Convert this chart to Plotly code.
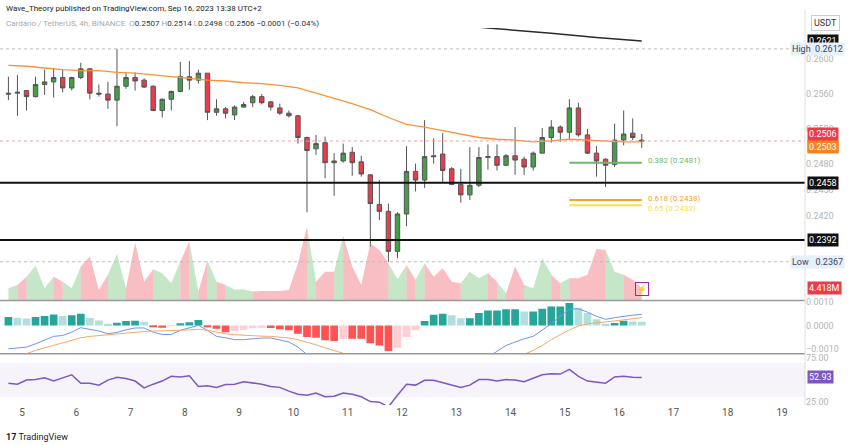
import pandas as pd
import plotly.graph_objects as go

start = "2023-09-04 18:00"
n = 71
times = pd.date_range(start, periods=n, freq="4h")

opens = [.2561,.2561,.2564,.2557,.2571,.2574,.2579,.2567,.2579,.2589,.2561,.2560,.2553,.2569,.2579,.2576,.2569,.2541,.2554,.2563,
         .2580,.2576,.2584,.2539,.2543,.2536,.2545,.2550,.2557,.2551,.2544,.2538,.2535,.2510,.2497,.2504,.2483,.2483,.2493,.2482,
         .2467,.2433,.2425,.2379,.2422,.2471,.2461,.2489,.2491,.2474,.2456,.2444,.2455,.2487,.2488,.2478,.2489,.2485,.2476,.2492,
         .2510,.2522,.2516,.2544,.2513,.2492,.2485,.2479,.2507,.2515,.2507]
highs = [.2580,.2582,.2564,.2580,.2588,.2590,.2588,.2580,.2596,.2590,.2571,.2574,.2612,.2584,.2585,.2578,.2570,.2555,.2564,.2597,
         .2598,.2588,.2584,.2554,.2545,.2547,.2551,.2559,.2560,.2552,.2549,.2541,.2536,.2511,.2513,.2511,.2492,.2503,.2499,.2489,
         .2468,.2461,.2434,.2424,.2500,.2480,.2530,.2509,.2515,.2476,.2474,.2499,.2499,.2502,.2502,.2491,.2522,.2488,.2494,.2521,
         .2530,.2524,.2554,.2550,.2520,.2500,.2486,.2526,.2541,.2532,.2514]
lows = [.2553,.2535,.2541,.2556,.2559,.2556,.2562,.2564,.2577,.2554,.2557,.2543,.2523,.2566,.2564,.2567,.2541,.2533,.2541,.2562,
        .2565,.2572,.2530,.2535,.2532,.2530,.2544,.2545,.2548,.2541,.2536,.2533,.2503,.2424,.2490,.2463,.2443,.2481,.2466,.2465,
        .2384,.2415,.2367,.2371,.2408,.2448,.2452,.2480,.2459,.2455,.2435,.2438,.2453,.2473,.2472,.2477,.2467,.2467,.2472,.2492,
        .2504,.2505,.2508,.2511,.2491,.2465,.2453,.2476,.2501,.2507,.2498]
closes = [.2560,.2562,.2557,.2571,.2574,.2579,.2567,.2579,.2589,.2561,.2560,.2553,.2569,.2579,.2575,.2568,.2541,.2554,.2563,.2580,
          .2576,.2584,.2539,.2543,.2538,.2545,.2548,.2557,.2550,.2545,.2538,.2535,.2510,.2495,.2503,.2481,.2481,.2492,.2481,.2468,
          .2434,.2425,.2379,.2422,.2471,.2461,.2488,.2488,.2472,.2456,.2444,.2455,.2487,.2488,.2478,.2489,.2484,.2476,.2492,.2510,
          .2522,.2516,.2544,.2513,.2492,.2483,.2478,.2507,.2514,.2510,.2506]
volume_m = [4.4,5.7,8.8,12.9,4.4,8.8,6.9,4.4,12.6,16.4,3.8,9.5,17.4,4.4,21.7,6.9,11.6,10.1,6.3,14.5,
            22.1,3.2,14.9,6.9,5.7,4.0,4.0,3.2,3.4,3.4,3.4,3.8,13.9,27.5,6.9,10.7,10.7,24.2,12.6,5.7,
            21.4,18.9,13.9,7.8,13.2,7.6,13.9,8.8,12.0,6.9,6.3,10.7,8.2,10.1,6.9,2.5,12.6,5.7,4.4,15.8,
            9.5,6.3,8.2,8.2,9.5,19.2,18.9,10.7,9.5,7.6,4.418]
ema_idx = list(range(0, 71, 2))
ema_vals = [.2593,.2592,.2590,.2588,.2587,.2587,.2585,.2584,.2582,.2580,.2578,.2576,.2575,.2573,.2572,.2570,.2567,.2561,
            .2555,.2549,.2542,.2533,.2525,.2522,.2518,.2514,.2510,.2508,.2507,.2505,.2506,.2508,.2507,.2506,.2505,.2505]
ma200_idx = [44, 53, 60, 65, 70]
ma200_vals = [.2645, .2636, .2630, .2625, .2621]
macd_hist_e4 = [3.6,3.3,2.9,3.6,4.0,4.7,4.0,4.3,5.0,3.3,2.1,0.7,1.1,1.9,2.0,1.6,-0.7,-1.0,-0.3,0.9,
                1.4,2.3,-0.4,-1.4,-2.9,-2.4,-1.9,-1.1,-1.0,-1.1,-1.6,-2.1,-3.6,-5.0,-5.3,-6.4,-6.7,-5.7,-5.7,-5.7,
                -7.6,-8.6,-11.0,-9.6,-5.0,-2.1,1.9,4.6,5.0,4.3,3.1,3.1,5.3,6.4,6.4,6.9,6.9,6.0,6.0,7.1,
                8.1,8.1,9.6,7.6,5.3,2.6,0.7,1.0,2.0,1.7,1.6]
macd_line_e4 = [-10.0,-9.7,-9.3,-7.9,-6.4,-4.7,-4.3,-2.9,-1.0,-1.6,-2.4,-3.6,-3.0,-1.9,-1.1,-1.1,-2.9,-3.9,-3.9,-2.1,
                -1.1,0.0,-2.1,-4.7,-5.3,-6.1,-6.1,-5.7,-5.4,-5.4,-6.1,-7.1,-9.3,-12.9,-15.7,-17.9,-20.0,-20.7,-22.1,-23.6,
                -26.4,-29.3,-32.1,-31.4,-27.9,-25.0,-22.1,-20.0,-17.9,-17.1,-16.4,-15.7,-15.0,-13.6,-11.0,-8.6,-7.1,-5.7,-4.7,-2.1,
                0.7,3.9,6.9,7.1,5.7,3.9,2.6,3.3,4.0,4.4,4.7]
signal_e4 = [-14.3,-13.3,-12.1,-10.7,-9.6,-8.6,-7.6,-6.4,-5.3,-4.7,-4.3,-3.9,-3.6,-3.3,-3.0,-2.6,-2.4,-2.4,-2.3,-2.1,
             -1.9,-1.7,-2.1,-2.9,-3.6,-4.0,-4.3,-4.4,-4.6,-4.7,-5.0,-5.4,-6.1,-7.1,-8.3,-9.6,-10.7,-11.9,-13.6,-15.0,
             -16.4,-17.9,-19.3,-20.4,-21.0,-21.0,-20.7,-20.4,-20.0,-19.0,-17.9,-17.1,-16.4,-15.7,-15.0,-14.0,-13.3,-12.4,-10.7,-8.6,
             -6.1,-3.9,-1.9,-0.3,0.7,1.1,1.4,1.9,2.4,2.9,3.3]
rsi = [46.2,45.1,49.8,50.5,52.4,48.7,52.4,56.0,46.2,46.2,44.0,49.8,53.1,51.6,48.7,40.7,45.1,48.7,54.2,53.5,
       54.9,42.5,43.2,41.4,44.7,45.1,48.0,46.9,45.1,42.5,41.4,37.0,33.4,32.3,34.9,30.5,31.2,34.9,33.4,30.5,
       25.0,24.3,18.8,32.3,45.1,44.0,49.5,49.5,46.9,44.3,41.4,44.0,50.5,50.5,48.7,50.5,49.8,48.0,52.4,56.0,
       57.1,56.8,62.2,54.2,48.7,47.6,46.2,53.5,54.2,53.1,52.93]
support_levels = [0.2458, 0.2392]
high_val, low_val, last_val, ema_last = 0.2612, 0.2367, 0.2506, 0.2503
fib_labels = ["0.382 (0.2481)", "0.618 (0.2438)", "0.65 (0.2432)"]
fib_vals = [0.2481, 0.2438, 0.2432]
fib_colors = ["#6cb86c", "#f7a030", "#f5e050"]
fib_start, fib_end = 62, 70
day_ticks = pd.date_range("2023-09-05", "2023-09-19", freq="D")
day_labels = [str(d.day) for d in day_ticks]

GREEN, RED = "#43a047", "#ef3a4a"
fig = go.Figure()
up = [c >= o for o, c in zip(opens, closes)]

for flag, col in [(True, "rgba(129,199,132,0.45)"), (False, "rgba(242,125,135,0.5)")]:
    xs, ys = [], []
    for i in range(1, n):
        if up[i] == flag:
            xs += [times[i-1], times[i-1], times[i], times[i], None]
            ys += [0, volume_m[i-1], volume_m[i], 0, None]
    fig.add_trace(go.Scatter(x=xs, y=ys, fill="toself", fillcolor=col, mode="none",
                             xaxis="x", yaxis="y4", hoverinfo="skip", showlegend=False))

fig.add_trace(go.Scatter(x=[times[i] for i in ema_idx], y=ema_vals, mode="lines",
                         line=dict(color="#f7943a", width=1.3), xaxis="x", yaxis="y", showlegend=False))
fig.add_trace(go.Scatter(x=[times[i] for i in ma200_idx], y=ma200_vals, mode="lines",
                         line=dict(color="#2a2a2a", width=1.5), xaxis="x", yaxis="y", showlegend=False))
fig.add_trace(go.Candlestick(x=times, open=opens, high=highs, low=lows, close=closes,
                             increasing=dict(fillcolor=GREEN, line=dict(color="#555", width=1)),
                             decreasing=dict(fillcolor=RED, line=dict(color="#555", width=1)),
                             whiskerwidth=0, xaxis="x", yaxis="y", showlegend=False))
for v, c in zip(fib_vals, fib_colors):
    fig.add_trace(go.Scatter(x=[times[fib_start], times[fib_end]], y=[v, v], mode="lines",
                             line=dict(color=c, width=2), xaxis="x", yaxis="y", showlegend=False))

hcols = []
for i, h in enumerate(macd_hist_e4):
    prev = macd_hist_e4[i-1] if i > 0 else h
    if h >= 0:
        hcols.append("#26a69a" if h >= prev else "#b2dfdb")
    else:
        hcols.append("#ff5252" if h <= prev else "#ffcdd2")
fig.add_trace(go.Bar(x=times, y=[h / 1e4 for h in macd_hist_e4], marker=dict(color=hcols, line=dict(width=0)),
                     xaxis="x2", yaxis="y2", showlegend=False))
fig.add_trace(go.Scatter(x=times, y=[v / 1e4 for v in macd_line_e4], mode="lines",
                         line=dict(color="#6f93f7", width=1), xaxis="x2", yaxis="y2", showlegend=False))
fig.add_trace(go.Scatter(x=times, y=[v / 1e4 for v in signal_e4], mode="lines",
                         line=dict(color="#f9a763", width=1), xaxis="x2", yaxis="y2", showlegend=False))
fig.add_trace(go.Scatter(x=times, y=rsi, mode="lines", line=dict(color="#7e57c2", width=1.5),
                         xaxis="x3", yaxis="y3", showlegend=False))

xr = ["2023-09-04 14:17", "2023-09-19 10:10"]
D_MAIN, D_MACD, D_RSI = [0.2785, 1], [0.138, 0.275], [0, 0.133]
fig.update_layout(
    width=850, height=445, margin=dict(l=0, r=45, t=28, b=40, autoexpand=False),
    paper_bgcolor="white", plot_bgcolor="white", bargap=0.15,
    font=dict(family="Roboto, Arial", size=9, color="#9a9a9a"),
    xaxis=dict(range=xr, domain=[0, 1], anchor="y", showticklabels=False, showgrid=False,
               rangeslider=dict(visible=False), zeroline=False),
    xaxis2=dict(range=xr, domain=[0, 1], anchor="y2", matches="x", showticklabels=False, showgrid=False),
    xaxis3=dict(range=xr, domain=[0, 1], anchor="y3", matches="x", showgrid=False,
                tickvals=list(day_ticks), ticktext=day_labels, ticks="", tickfont=dict(size=10, color="#555")),
    yaxis=dict(domain=D_MAIN, range=[0.2323, 0.2636], side="right", showgrid=False, zeroline=False,
               tickvals=[0.26, 0.256, 0.252, 0.248, 0.245, 0.242], tickformat=".4f",
               tickfont=dict(size=9, color="#b5b5b5")),
    yaxis4=dict(domain=D_MAIN, overlaying="y", range=[0, 102.6], visible=False),
    yaxis2=dict(domain=D_MACD, range=[-0.00118, 0.00103], side="right", showgrid=False, zeroline=False,
                tickvals=[0.001, 0, -0.001], ticktext=["0.0010", "0.0000", "\u22120.0010"],
                tickfont=dict(size=9, color="#b5b5b5")),
    yaxis3=dict(domain=D_RSI, range=[21, 79], side="right", showgrid=False, zeroline=False,
                tickvals=[75, 25], ticktext=["75.00", "25.00"], tickfont=dict(size=9, color="#b5b5b5")),
)

shapes = []
shapes.append(dict(type="rect", xref="paper", x0=0, x1=1, yref="y3", y0=30, y1=70,
                   fillcolor="rgba(126,87,194,0.07)", line=dict(width=0), layer="below"))
for v in support_levels:
    shapes.append(dict(type="line", xref="paper", x0=0, x1=1, yref="y", y0=v, y1=v,
                       line=dict(color="#111", width=2)))
for v, c in [(high_val, "#bbbbbb"), (low_val, "#bbbbbb"), (last_val, "#f2a0a8")]:
    shapes.append(dict(type="line", xref="paper", x0=0, x1=1, yref="y", y0=v, y1=v,
                       line=dict(color=c, width=1, dash="dot")))
for y in [D_MACD[1] + 0.002, D_RSI[1] + 0.003]:
    shapes.append(dict(type="line", xref="paper", x0=0, x1=1, yref="paper", y0=y, y1=y,
                       line=dict(color="#999", width=1.5)))
shapes.append(dict(type="line", xref="paper", x0=1, x1=1, yref="paper", y0=0, y1=1.05,
                   line=dict(color="#e0e0e0", width=1)))
fig.update_layout(shapes=shapes)

ann = []
def box(yref, y, text, bg, fg="white", xanchor="left", xshift=2):
    ann.append(dict(xref="paper", x=1, xanchor=xanchor, xshift=xshift, yref=yref, y=y, text=text,
                    showarrow=False, bgcolor=bg, font=dict(size=9, color=fg), borderpad=1))
box("y", 0.2621, "0.2621", "#111")
box("y", high_val, "High  0.2612", "#e6f0fb", fg="#445", xanchor="right", xshift=40)
box("y", last_val + 0.0001, "0.2506<br>21:16", "#ef3a4a")
box("y", ema_last - 0.0004, "0.2503", "#f7851f")
box("y", support_levels[0], "0.2458", "#111")
box("y", support_levels[1], "0.2392", "#111")
box("y", low_val, "Low   0.2367", "#e6f0fb", fg="#445", xanchor="right", xshift=40)
box("y4", 4.418, "4.418M", "#ef3a4a")
box("y3", 52.93, "52.93", "#7e57c2")
for t, v, c in zip(fib_labels, fib_vals, fib_colors):
    ann.append(dict(xref="x", x=times[fib_end], xanchor="left", xshift=4, yref="y", y=v, text=t,
                    showarrow=False, font=dict(size=8, color=c), yshift=2 if v > 0.2435 else -3))
ann.append(dict(xref="paper", x=1, xanchor="left", xshift=6, yref="paper", y=1.035, text="USDT",
                showarrow=False, font=dict(size=9, color="#333"), bordercolor="#ccc", borderpad=2))
ann.append(dict(xref="paper", x=0.005, xanchor="left", yref="paper", y=1.053, yanchor="middle",
                text="Wave_Theory published on TradingView.com, Sep 16, 2023 13:38 UTC+2",
                showarrow=False, font=dict(size=8, color="#222")))
ann.append(dict(xref="paper", x=0.005, xanchor="left", yref="paper", y=1.013, yanchor="middle",
                text="<span style='color:#aaa'>Cardano / TetherUS, 4h, BINANCE</span>  "
                     "<span style='color:#aaa'>O</span>0.2507 <span style='color:#aaa'>H</span>0.2514 "
                     "<span style='color:#aaa'>L</span>0.2498 <span style='color:#aaa'>C</span>0.2506 "
                     "\u22120.0001 (\u22120.04%)",
                showarrow=False, font=dict(size=8, color="#333")))
ann.append(dict(xref="paper", x=0.005, xanchor="left", yref="paper", y=-0.085, yanchor="middle",
                text="<b>17</b> TradingView", showarrow=False, font=dict(size=9, color="#222")))
ann.append(dict(xref="x", x=times[70], yref="y4", y=4, text="\u26a1", showarrow=False,
                font=dict(size=8, color="#9c27b0"), bordercolor="#9c27b0", borderpad=1))
fig.update_layout(annotations=ann)
fig.write_html("out.html", config={"displayModeBar": False},
               post_script="document.body.style.margin='0';document.body.style.overflow='hidden';")
